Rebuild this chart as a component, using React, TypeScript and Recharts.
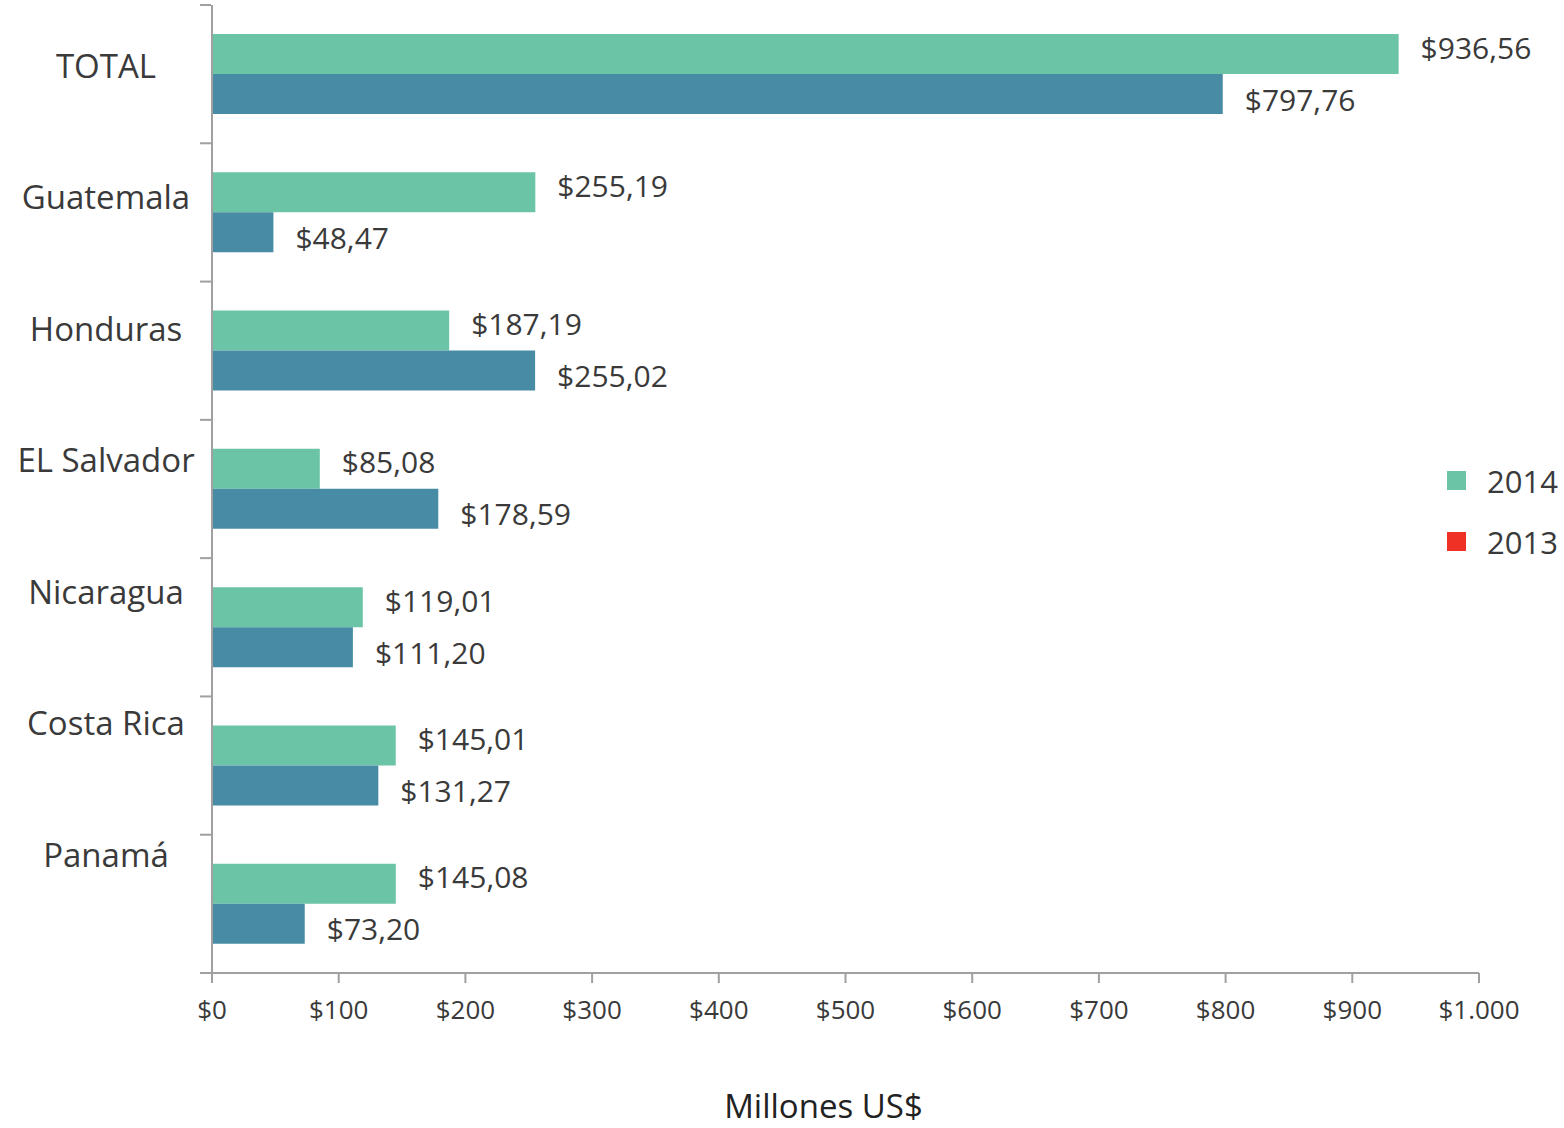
import { Bar, BarChart, LabelList, Legend, XAxis, YAxis } from "recharts";

const categories = ["TOTAL", "Guatemala", "Honduras", "EL Salvador", "Nicaragua", "Costa Rica", "Panamá"];
const values2014 = [936.56, 255.19, 187.19, 85.08, 119.01, 145.01, 145.08];
const values2013 = [797.76, 48.47, 255.02, 178.59, 111.2, 131.27, 73.2];
const xTicks = [0, 100, 200, 300, 400, 500, 600, 700, 800, 900, 1000];

const data = categories.map((name, i) => ({ name, y2014: values2014[i], y2013: values2013[i] }));

const W = 1564;
const H = 1128;
const MARGIN = { top: 5, right: 85, bottom: 0, left: 0 };
const Y_AXIS_W = 212;
const X_AXIS_H = 155;
const BAND = (H - MARGIN.top - X_AXIS_H) / categories.length;

const GREEN = "#6bc4a5";
const BLUE = "#478ca4";
const RED = "#ee3124";
const AXIS = "#a0a0a0";
const TEXT = "#3a3a3a";
const FONT = "'Open Sans', sans-serif";

const money = (v: number) => "$" + v.toFixed(2).replace(".", ",");
const tickMoney = (v: number) => "$" + (v >= 1000 ? v.toLocaleString("de-DE") : String(v));

function CategoryTick(props: any) {
  const { y, payload, index } = props;
  const last = index === categories.length - 1;
  return (
    <g>
      <line x1={200} x2={Y_AXIS_W - 1} y1={y - BAND / 2} y2={y - BAND / 2} stroke={AXIS} strokeWidth={2} />
      {last && (
        <line x1={200} x2={Y_AXIS_W - 1} y1={y + BAND / 2} y2={y + BAND / 2} stroke={AXIS} strokeWidth={2} />
      )}
      <text
        x={106}
        y={y - 8 - index * 6.8}
        dy="0.35em"
        textAnchor="middle"
        fontSize={33}
        fill={TEXT}
        fontFamily={FONT}
      >
        {payload.value}
      </text>
    </g>
  );
}

function MoneyTick(props: any) {
  const { x, y, payload } = props;
  return (
    <text x={x} y={y} dy="0.71em" textAnchor="middle" fontSize={26} fill={TEXT} fontFamily={FONT}>
      {tickMoney(payload.value)}
    </text>
  );
}

function barLabel(dy: number) {
  return (props: any) => {
    const { x, y, width, height, value } = props;
    return (
      <text
        x={x + width + 22}
        y={y + height / 2 + dy}
        dy="0.35em"
        fontSize={30}
        fill={TEXT}
        fontFamily={FONT}
      >
        {money(value)}
      </text>
    );
  };
}

const legendColors: Record<string, string> = { "2014": GREEN, "2013": RED };

function LegendBox(props: any) {
  const items = [...((props.payload || []) as any[])].sort((a, b) =>
    String(b.value).localeCompare(String(a.value))
  );
  return (
    <div style={{ fontFamily: FONT }}>
      {items.map((it) => (
        <div key={it.value} style={{ display: "flex", alignItems: "center", height: 61 }}>
          <span style={{ width: 19, height: 19, background: legendColors[it.value], display: "inline-block" }} />
          <span style={{ marginLeft: 21, fontSize: 31, color: TEXT }}>{it.value}</span>
        </div>
      ))}
    </div>
  );
}

export default function App() {
  return (
    <div style={{ position: "absolute", left: 0, top: 0, width: W, height: H, background: "#fff" }}>
      <BarChart
        width={W}
        height={H}
        data={data}
        layout="vertical"
        margin={MARGIN}
        barGap={0}
        barSize={40}
      >
        <XAxis
          type="number"
          domain={[0, 1000]}
          ticks={xTicks}
          height={X_AXIS_H}
          stroke={AXIS}
          strokeWidth={2}
          tickSize={10}
          tickMargin={18}
          tick={<MoneyTick />}
          label={{
            value: "Millones US$",
            position: "insideBottom",
            offset: 10,
            dx: -22,
            fontSize: 33,
            fill: "#222",
            fontFamily: FONT,
          }}
        />
        <YAxis
          type="category"
          dataKey="name"
          width={Y_AXIS_W}
          stroke={AXIS}
          strokeWidth={2}
          tickLine={false}
          tick={<CategoryTick />}
          interval={0}
        />
        <Legend
          layout="vertical"
          verticalAlign="middle"
          align="center"
          content={<LegendBox />}
          wrapperStyle={{ position: "absolute", left: 1447, top: 450, width: 117 }}
        />
        <Bar dataKey="y2014" name="2014" fill={GREEN} isAnimationActive={false}>
          <LabelList dataKey="y2014" content={barLabel(-6)} />
        </Bar>
        <Bar dataKey="y2013" name="2013" fill={BLUE} isAnimationActive={false}>
          <LabelList dataKey="y2013" content={barLabel(6)} />
        </Bar>
      </BarChart>
    </div>
  );
}
